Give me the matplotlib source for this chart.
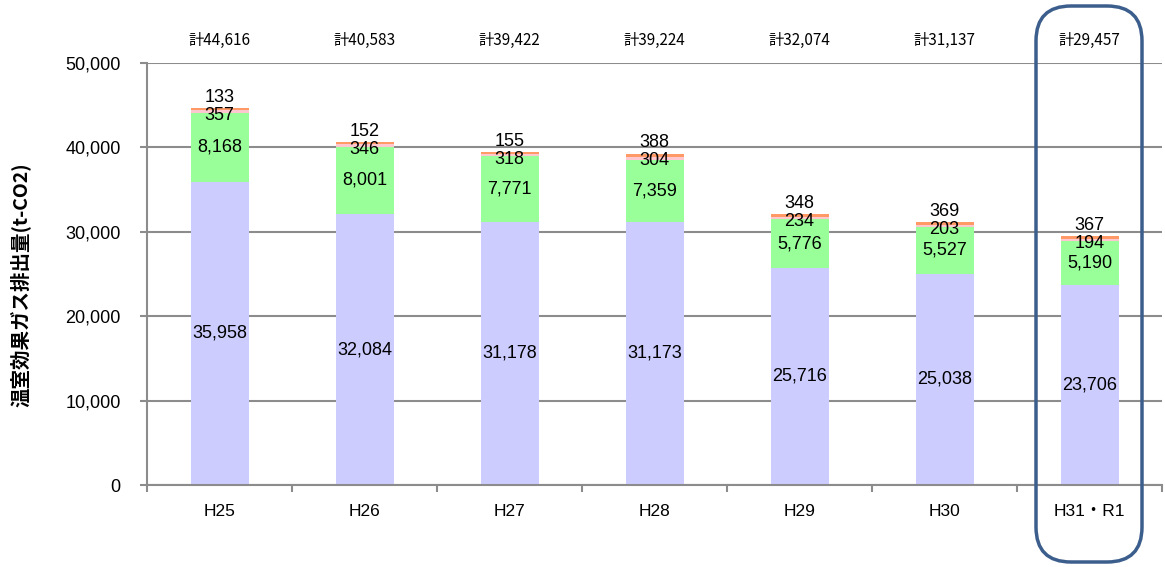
import matplotlib.pyplot as plt
from matplotlib.patches import FancyBboxPatch
import numpy as np

plt.rcParams['font.family'] = ['Liberation Sans', 'Noto Sans CJK JP', 'DejaVu Sans']

years = ['H25', 'H26', 'H27', 'H28', 'H29', 'H30', 'H31・R1']
blue = [35958, 32084, 31178, 31173, 25716, 25038, 23706]
green = [8168, 8001, 7771, 7359, 5776, 5527, 5190]
pink = [357, 346, 318, 304, 234, 203, 194]
orange = [133, 152, 155, 388, 348, 369, 367]

fig = plt.figure(figsize=(11.65, 5.67), dpi=100)
ax = fig.add_axes([147 / 1165, 1 - 485 / 567, 1015 / 1165, 422 / 567])

x = np.arange(len(years))
w = 0.4
b1 = np.array(blue)
b2 = b1 + np.array(green)
b3 = b2 + np.array(pink)
total = b3 + np.array(orange)

ax.bar(x, blue, w, color='#CCCCFF', zorder=2)
ax.bar(x, green, w, bottom=b1, color='#99FF99', zorder=2)
ax.bar(x, pink, w, bottom=b2, color='#FFC8D0', zorder=2)
ax.bar(x, orange, w, bottom=b3, color='#FF9966', zorder=2)

fs = 13
for i in range(len(years)):
    ax.text(x[i], blue[i] / 2, f'{blue[i]:,}', ha='center', va='center', fontsize=fs, zorder=3)
    ax.text(x[i], b1[i] + green[i] / 2, f'{green[i]:,}', ha='center', va='center', fontsize=fs, zorder=3)
    ax.annotate(f'{pink[i]:,}', (x[i], total[i]), xytext=(0, -5), textcoords='offset points',
                ha='center', va='center', fontsize=fs, zorder=3)
    ax.annotate(f'{orange[i]:,}', (x[i], total[i]), xytext=(0, 8), textcoords='offset points',
                ha='center', va='center', fontsize=fs, zorder=3)
    ax.text(x[i], 1.0545, f'計{total[i]:,}', ha='center', va='center', fontsize=11,
            family=['Noto Sans CJK JP'], transform=ax.get_xaxis_transform())

ax.set_xlim(-0.5, len(years) - 0.5)
ax.set_ylim(0, 50000)
ax.set_yticks(range(0, 50001, 10000))
ax.set_yticklabels([f'{v:,}' for v in range(0, 50001, 10000)], fontsize=13)
ax.yaxis.grid(True, color='#8C8C8C', linewidth=1.5, zorder=0)
ax.set_axisbelow(True)

ax.set_xticks(np.arange(-0.5, len(years), 1.0))
ax.set_xticklabels([])
ax.set_xticks(x, minor=True)
ax.set_xticklabels(years, minor=True, fontsize=12.5)
ax.tick_params(axis='x', which='minor', length=0, pad=14)
ax.tick_params(axis='x', which='major', length=5, color='#8C8C8C', width=1.5)
ax.tick_params(axis='y', length=5, color='#8C8C8C', width=1.5, pad=14)

for s in ['top', 'right']:
    ax.spines[s].set_visible(False)
for s in ['left', 'bottom']:
    ax.spines[s].set_color('#8C8C8C')
    ax.spines[s].set_linewidth(1.5)

fig.text(20 / 1165, 1 - 285 / 567, '温室効果ガス排出量(t-CO2)', rotation=90, ha='center',
         va='center', fontsize=14, fontweight='bold', family=['Noto Sans CJK JP'])

box = FancyBboxPatch((1036 / 1165, 1 - 562 / 567), 106 / 1165, 556 / 567,
                     boxstyle='round,pad=0,rounding_size=0.03', transform=fig.transFigure,
                     fill=False, edgecolor='#3C5E8C', linewidth=2.5, mutation_aspect=1165 / 567)
fig.patches.append(box)

fig.savefig('out.png', dpi=100)
